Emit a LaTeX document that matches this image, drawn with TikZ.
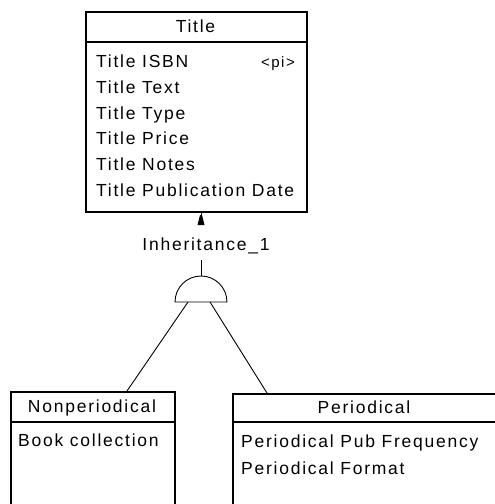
\documentclass[tikz,border=0pt]{standalone}
\usepackage{fontspec}
\setmainfont{Liberation Sans}[LetterSpace=10]
\usetikzlibrary{positioning,calc}

\tikzset{
  entity/.style={draw, line width=1.5pt, anchor=north west, inner sep=0pt},
  entity line/.style={line width=1.5pt},
  attr/.style={anchor=base west, inner sep=0pt},
  head/.style={anchor=base, inner sep=0pt},
  link/.style={line width=0.9pt},
}

\begin{document}
\begin{tikzpicture}[x=1pt,y=-1pt,font=\fontsize{17.5}{20}\selectfont]
        \useasboundingbox (0,0) rectangle (495,504);
        \clip (0,0) rectangle (495,504);

        % draw the parent entity
        \node[entity, minimum width=221pt, minimum height=200pt] (title) at (85,11) {};
        \draw[entity line] ($(title.north west)+(0,31)$) -- ($(title.north east)+(0,31)$);
        \node[head] (titlehead) at (195.5,32) {Title};
        \foreach \y/\txt in {
            67/Title ISBN,
            93/Title Text,
            119/Title Type,
            144/Title Price,
            170/Title Notes,
            196/Title Publication Date}
                \node[attr] (attr\y) at (96,\y) {\txt};
        \node[anchor=base east, inner sep=0pt, font=\fontsize{15}{18}\selectfont] (pi) at (295,67) {<pi>};

        % draw the child entities
        \node[entity, minimum width=164pt, minimum height=150pt] (nonper) at (10,391) {};
        \draw[entity line] ($(nonper.north west)+(0,31)$) -- ($(nonper.north east)+(0,31)$);
        \node[head] (nonperhead) at (92,412) {Nonperiodical};
        \node[attr] (book) at (18,446) {Book collection};

        \node[entity, minimum width=300pt, minimum height=150pt] (per) at (232,393) {};
        \draw[entity line] ($(per.north west)+(0,29)$) -- ($(per.north east)+(0,29)$);
        \node[head] (perhead) at (364,413) {Periodical};
        \node[attr] (freq) at (241,447) {Periodical Pub Frequency};
        \node[attr] (format) at (241,474) {Periodical Format};

        % draw the inheritance symbol
        \coordinate (inh) at (201,302);
        \draw[link] (175,302) arc[start angle=180, end angle=360, radius=26] -- cycle;
        \node[head] (inhlabel) at (206,250) {Inheritance\_1};

        % draw the links
        \draw[link] (title.south -| inh) -- ++(0,4);
        \fill (200,215) -- (202,215) -- (204.5,225) -- (197.5,225) -- cycle;
        \draw[link] ($(inh)+(0,-42)$) -- ($(inh)+(0,-26)$);
        \coordinate (nonperin) at ($(nonper.north west)+(117,0)$);
        \coordinate (perin) at ($(per.north west)+(35,0)$);
        \draw[link] ($(inh)+(-13,0)$) -- (nonperin);
        \draw[link] ($(inh)+(9,0)$) -- (perin);
\end{tikzpicture}
\end{document}
